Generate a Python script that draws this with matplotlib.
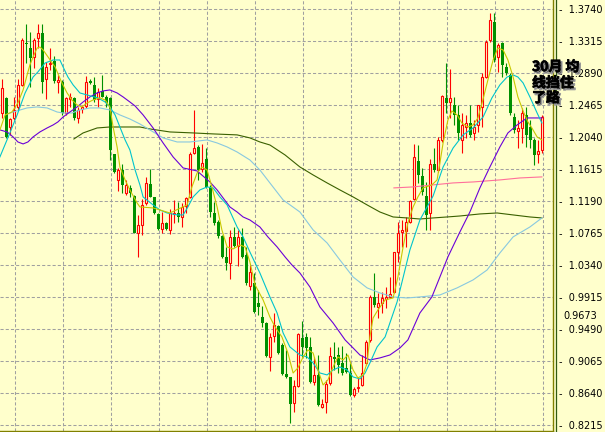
import numpy as np
import matplotlib
matplotlib.use('Agg')
import matplotlib.pyplot as plt
import matplotlib.patheffects as pe
from matplotlib.lines import Line2D

# OHLC for each bar
opens = [1.2359, 1.2559, 1.2173, 1.2293, 1.2439, 1.2732, 1.3288, 1.3222, 1.3103, 1.3355,
         1.3421, 1.2810, 1.3010, 1.3050, 1.2771, 1.2771, 1.2359, 1.2545, 1.2559, 1.2293,
         1.2412, 1.2452, 1.2785, 1.2732, 1.2545, 1.2652, 1.2572, 1.2559, 1.1815, 1.1470,
         1.1602, 1.1297, 1.1364, 1.1257, 1.0766, 1.0872, 1.1164, 1.1417, 1.1244, 1.1018,
         1.0819, 1.0898, 1.0806, 1.1018, 1.1031, 1.0978, 1.1124, 1.1244, 1.1828, 1.1908,
         1.1615, 1.1748, 1.1377, 1.1031, 1.0911, 1.0726, 1.0447, 1.0367, 1.0713, 1.0593,
         1.0713, 1.0474, 1.0062, 1.0102, 0.9836, 0.9650, 0.9570, 0.9119, 0.9398, 0.9530,
         0.9278, 0.8893, 0.8853, 0.8508, 0.8734, 0.9371, 0.9385, 0.9252, 0.8787, 0.8880,
         0.8455, 0.8521, 0.8774, 0.9119, 0.9145, 0.9039, 0.8973, 0.8906, 0.8615, 0.8708,
         0.8747, 0.9039, 0.9345, 0.9916, 0.9783, 0.9836, 0.9889, 0.9916, 0.9982, 1.0513,
         1.0779, 1.0792, 1.0911, 1.1217, 1.1722, 1.1523, 1.1257, 1.1031, 1.1682, 1.1602,
         1.2001, 1.2559, 1.2505, 1.2466, 1.2333, 1.2001, 1.2173, 1.2226, 1.2094, 1.2200,
         1.2439, 1.2837, 1.3328, 1.3567, 1.3103, 1.3288, 1.2970, 1.2864, 1.2306, 1.2120,
         1.2160, 1.2333, 1.2173, 1.2001, 1.1815, 1.1868]
highs = [1.2810, 1.2572, 1.2293, 1.2572, 1.2810, 1.3355, 1.3541, 1.3434, 1.3355, 1.3541,
         1.3541, 1.3036, 1.3222, 1.3116, 1.2864, 1.2798, 1.2572, 1.2625, 1.2572, 1.2439,
         1.2466, 1.2850, 1.2810, 1.2837, 1.2692, 1.2864, 1.2598, 1.2572, 1.1815, 1.1629,
         1.1682, 1.1470, 1.1404, 1.1271, 1.1005, 1.1217, 1.1510, 1.1615, 1.1244, 1.1031,
         1.1044, 1.0911, 1.1084, 1.1204, 1.1177, 1.1164, 1.1244, 1.1841, 1.2399, 1.1934,
         1.1948, 1.1894, 1.1404, 1.1177, 1.0938, 1.0740, 1.0580, 1.0806, 1.0845, 1.0806,
         1.0832, 1.0580, 1.0341, 1.0234, 1.0009, 0.9796, 0.9583, 0.9438, 0.9703, 0.9544,
         0.9305, 0.9212, 0.8853, 0.8814, 0.9438, 0.9597, 0.9438, 0.9385, 0.9119, 0.9145,
         0.8561, 0.8814, 0.9252, 0.9318, 0.9252, 0.9265, 0.9172, 0.9039, 0.8721, 0.8853,
         0.9145, 0.9345, 0.9942, 1.0234, 0.9969, 0.9982, 1.0049, 1.0181, 1.0513, 1.0911,
         1.0938, 1.0978, 1.1204, 1.1948, 1.1934, 1.1629, 1.1443, 1.1748, 1.1894, 1.2041,
         1.2598, 1.3023, 1.2943, 1.2572, 1.2466, 1.2359, 1.2333, 1.2466, 1.2266, 1.2466,
         1.2890, 1.3328, 1.3687, 1.3687, 1.3288, 1.3302, 1.3023, 1.2890, 1.2359, 1.2266,
         1.2426, 1.2439, 1.2266, 1.2028, 1.2001, 1.2333]
lows = [1.2293, 1.2028, 1.2068, 1.2266, 1.2399, 1.2718, 1.3023, 1.2705, 1.2957, 1.3222,
        1.2625, 1.2545, 1.2930, 1.2758, 1.2625, 1.2333, 1.2333, 1.2439, 1.2266, 1.2226,
        1.2359, 1.2426, 1.2745, 1.2505, 1.2439, 1.2572, 1.2439, 1.1735, 1.1562, 1.1324,
        1.1297, 1.1271, 1.1244, 1.0766, 1.0447, 1.0740, 1.1138, 1.1244, 1.1018, 1.0806,
        1.0766, 1.0806, 1.0753, 1.0898, 1.0911, 1.0845, 1.1031, 1.1231, 1.1815, 1.1470,
        1.1575, 1.1364, 1.0978, 1.0872, 1.0700, 1.0434, 1.0274, 1.0155, 1.0580, 1.0327,
        1.0434, 1.0075, 1.0009, 0.9703, 0.9677, 0.9517, 0.9119, 0.8933, 0.9318, 0.9159,
        0.8880, 0.8840, 0.8243, 0.8388, 0.8721, 0.9119, 0.9106, 0.8774, 0.8747, 0.8468,
        0.8442, 0.8375, 0.8747, 0.8946, 0.8906, 0.8880, 0.8906, 0.8601, 0.8588, 0.8655,
        0.8734, 0.9013, 0.9318, 0.9783, 0.9637, 0.9703, 0.9770, 0.9902, 0.9969, 1.0380,
        1.0580, 1.0580, 1.0898, 1.1204, 1.1430, 1.1271, 1.0806, 1.0806, 1.1575, 1.1575,
        1.1974, 1.2359, 1.2293, 1.2200, 1.2001, 1.1828, 1.2028, 1.2041, 1.2001, 1.2107,
        1.2173, 1.2824, 1.3302, 1.3036, 1.2904, 1.2837, 1.2864, 1.2333, 1.2094, 1.1894,
        1.1961, 1.1908, 1.1894, 1.1669, 1.1695, 1.1828]
closes = [1.2692, 1.2041, 1.2279, 1.2399, 1.2732, 1.3328, 1.3275, 1.3090, 1.3328, 1.3421,
          1.2771, 1.2970, 1.3023, 1.2785, 1.2798, 1.2359, 1.2559, 1.2572, 1.2293, 1.2399,
          1.2439, 1.2771, 1.2758, 1.2532, 1.2638, 1.2572, 1.2492, 1.1868, 1.1575, 1.1602,
          1.1404, 1.1404, 1.1297, 1.0766, 1.0872, 1.1138, 1.1430, 1.1244, 1.1031, 1.0819,
          1.0898, 1.0819, 1.1031, 1.1031, 1.0978, 1.1111, 1.1231, 1.1815, 1.1894, 1.1602,
          1.1695, 1.1377, 1.1044, 1.0898, 1.0726, 1.0447, 1.0367, 1.0713, 1.0593, 1.0713,
          1.0447, 1.0102, 1.0248, 0.9716, 0.9783, 0.9570, 0.9132, 0.9385, 0.9544, 0.9172,
          0.8893, 0.8853, 0.8495, 0.8734, 0.9425, 0.9252, 0.9238, 0.8787, 0.8880, 0.8482,
          0.8495, 0.8761, 0.9132, 0.9092, 0.9013, 0.8906, 0.8920, 0.8615, 0.8694, 0.8721,
          0.8906, 0.9318, 0.9916, 0.9810, 0.9836, 0.9902, 0.9916, 0.9956, 1.0513, 1.0766,
          1.0806, 1.0911, 1.1191, 1.1775, 1.1536, 1.1310, 1.1005, 1.1682, 1.1602, 1.2001,
          1.2585, 1.2492, 1.2559, 1.2333, 1.2094, 1.2200, 1.2226, 1.2068, 1.2173, 1.2466,
          1.2837, 1.3302, 1.3594, 1.3063, 1.3262, 1.2997, 1.2890, 1.2359, 1.2134, 1.2160,
          1.2359, 1.2068, 1.2001, 1.1801, 1.1855, 1.2306]

# moving average lines, sampled along the bar index
ma_yellow_x = [-0.6, 0.7, 2.4, 3.9, 5.2, 6.2, 6.9, 7.7, 8.7, 9.4, 10.2, 13.2, 14.9, 16.2, 17.4,
               18.7, 19.9, 21.2, 22.7, 24.4, 25.7, 26.9, 27.7, 28.7, 29.4, 30.7, 31.9, 33.7,
               34.4, 37.7, 41.9, 46.2, 47.4, 48.7, 49.9, 51.2, 52.4, 53.7, 54.9, 56.2, 57.7,
               59.4, 60.7, 61.9, 63.2, 65.2, 66.9, 68.2, 69.9, 71.4, 72.7, 73.9, 75.2, 76.4,
               77.7, 78.9, 80.2, 81.4, 82.7, 83.9, 85.2, 86.4, 87.7, 88.9, 90.2, 91.2, 91.9,
               92.7, 93.9, 95.7, 97.7, 98.9, 100.2, 101.4, 102.7, 103.9, 105.2, 107.4, 108.7,
               109.4, 110.2, 111.4, 112.4, 113.7, 114.9, 116.4, 117.7, 118.9, 120.2, 121.4,
               122.7, 123.9, 125.2, 126.4, 127.7, 128.9, 130.2, 131.4, 132.4, 133.7, 134.9]
ma_yellow = [1.2134, 1.2333, 1.2372, 1.2492, 1.2665, 1.2864, 1.2997, 1.3103, 1.3222, 1.3235,
             1.3196, 1.2970, 1.2758, 1.2625, 1.2532, 1.2466, 1.2439, 1.2492, 1.2532, 1.2559,
             1.2532, 1.2439, 1.2173, 1.1908, 1.1642, 1.1470, 1.1337, 1.1164, 1.1111, 1.1098,
             1.1031, 1.1138, 1.1377, 1.1562, 1.1642, 1.1602, 1.1377, 1.1111, 1.0806, 1.0580,
             1.0553, 1.0606, 1.0580, 1.0380, 1.0075, 0.9876, 0.9650, 0.9517, 0.9385, 0.9172,
             0.8906, 0.8973, 0.9119, 0.9212, 0.9172, 0.8946, 0.8747, 0.8814, 0.8986, 0.9119,
             0.9079, 0.9145, 0.8946, 0.8840, 0.8880, 0.9039, 0.9385, 0.9637, 0.9743, 0.9876,
             0.9902, 1.0181, 1.0580, 1.0898, 1.1111, 1.1244, 1.1364, 1.1404, 1.1470, 1.1695,
             1.1961, 1.2266, 1.2386, 1.2333, 1.2226, 1.2173, 1.2200, 1.2293, 1.2545, 1.2798,
             1.3063, 1.3222, 1.3196, 1.3063, 1.2837, 1.2572, 1.2386, 1.2240, 1.2160, 1.2041,
             1.2001]

ma_cyan_x = [-0.6, 1.9, 3.7, 5.7, 7.7, 8.9, 10.7, 12.7, 14.4, 15.2, 16.4, 17.7, 19.4, 21.2,
             23.9, 25.7, 26.9, 28.2, 29.4, 30.7, 31.9, 33.2, 34.4, 35.2, 37.7, 39.4, 41.2,
             43.7, 45.2, 46.4, 47.7, 49.4, 51.2, 52.7, 54.4, 56.2, 58.7, 60.2, 61.9, 64.4,
             66.9, 68.7, 70.2, 71.9, 74.4, 76.2, 77.7, 79.4, 81.2, 82.7, 84.4, 86.2, 87.7,
             89.4, 90.7, 91.9, 93.7, 95.7, 98.7, 101.9, 104.4, 107.7, 110.2, 112.7, 115.2,
             117.7, 120.2, 122.4, 124.4, 126.2, 127.7, 128.9, 130.2, 131.9, 133.7, 134.9]
ma_cyan = [1.1775, 1.2094, 1.2333, 1.2625, 1.2837, 1.2904, 1.3023, 1.3063, 1.3063, 1.2970,
           1.2837, 1.2732, 1.2625, 1.2598, 1.2559, 1.2505, 1.2439, 1.2333, 1.2173, 1.2001,
           1.1868, 1.1602, 1.1404, 1.1244, 1.1138, 1.1071, 1.1031, 1.1005, 1.1005, 1.1111,
           1.1244, 1.1337, 1.1377, 1.1364, 1.1244, 1.1138, 1.0845, 1.0713, 1.0513, 1.0234,
           0.9916, 0.9703, 0.9438, 0.9252, 0.9145, 0.9119, 0.9039, 0.8906, 0.8880, 0.8946,
           0.8986, 0.8946, 0.8853, 0.8827, 0.8906, 0.9039, 0.9252, 0.9385, 0.9850, 1.0540,
           1.0938, 1.1257, 1.1642, 1.1894, 1.2068, 1.2160, 1.2306, 1.2559, 1.2732, 1.2837,
           1.2864, 1.2837, 1.2758, 1.2572, 1.2359, 1.2226]

ma_purple_x = [-0.6, 1.2, 2.7, 3.9, 5.2, 6.4, 7.7, 9.4, 11.2, 12.7, 13.9, 15.2, 16.9, 18.7,
               20.2, 21.9, 23.7, 25.2, 26.9, 28.7, 30.2, 31.9, 33.2, 35.2, 37.7, 40.2, 42.7,
               45.2, 48.7, 51.9, 53.7, 55.2, 56.9, 58.7, 60.2, 61.9, 64.4, 66.4, 68.7, 70.7,
               72.4, 74.4, 76.9, 79.4, 82.7, 85.7, 87.7, 89.4, 91.9, 94.4, 96.9, 99.4, 101.4,
               104.4, 107.4, 109.4, 111.4, 114.4, 116.9, 119.4, 121.9, 124.4, 126.4, 128.7,
               131.2, 134.9]
ma_purple = [1.2134, 1.2107, 1.2041, 1.1974, 1.1948, 1.1974, 1.2041, 1.2107, 1.2160, 1.2200,
             1.2240, 1.2306, 1.2372, 1.2439, 1.2505, 1.2572, 1.2625, 1.2652, 1.2665, 1.2625,
             1.2572, 1.2505, 1.2452, 1.2333, 1.2160, 1.1961, 1.1775, 1.1629, 1.1589, 1.1443,
             1.1337, 1.1231, 1.1111, 1.1044, 1.0978, 1.0938, 1.0845, 1.0713, 1.0580, 1.0447,
             1.0341, 1.0234, 1.0049, 0.9783, 0.9570, 0.9345, 0.9238, 0.9145, 0.9079, 0.9106,
             0.9145, 0.9238, 0.9345, 0.9703, 0.9916, 1.0181, 1.0447, 1.0779, 1.1044, 1.1364,
             1.1642, 1.1908, 1.2094, 1.2200, 1.2293, 1.2293]

ma_skyblue_x = [1.4, 2.7, 6.2, 8.7, 11.2, 13.7, 15.2, 17.4, 19.4, 21.9, 24.4, 26.9, 29.4, 31.9,
                34.4, 36.9, 40.2, 43.7, 46.9, 51.2, 53.7, 56.2, 58.7, 61.9, 64.4, 66.9, 70.2,
                74.4, 77.7, 81.2, 84.4, 87.7, 91.2, 94.4, 97.7, 101.2, 104.4, 109.4, 113.7,
                117.7, 121.2, 124.4, 127.7, 131.9, 134.9]
ma_skyblue = [1.2346, 1.2372, 1.2426, 1.2439, 1.2426, 1.2372, 1.2359, 1.2359, 1.2399, 1.2426,
              1.2426, 1.2399, 1.2333, 1.2279, 1.2213, 1.2134, 1.2028, 1.1974, 1.1974, 1.2001,
              1.1961, 1.1908, 1.1841, 1.1735, 1.1602, 1.1430, 1.1204, 1.1044, 1.0806, 1.0633,
              1.0407, 1.0181, 1.0036, 0.9969, 0.9916, 0.9902, 0.9916, 0.9942, 1.0036, 1.0142,
              1.0274, 1.0500, 1.0713, 1.0845, 1.0965]

ma_olive_x = [17.9, 20.2, 23.7, 26.9, 31.2, 34.4, 36.9, 41.9, 47.7, 52.7, 58.7, 61.9, 64.4,
              66.9, 70.7, 74.4, 77.7, 81.2, 84.4, 87.7, 91.2, 94.4, 97.7, 101.2, 104.4, 107.7,
              111.2, 114.4, 119.4, 123.7, 127.7, 131.9, 134.9]
ma_olive = [1.2014, 1.2094, 1.2160, 1.2173, 1.2173, 1.2173, 1.2147, 1.2107, 1.2094, 1.2081,
            1.2068, 1.2028, 1.1974, 1.1934, 1.1801, 1.1642, 1.1536, 1.1430, 1.1337, 1.1244,
            1.1138, 1.1044, 1.0978, 1.0965, 1.0951, 1.0965, 1.0978, 1.0991, 1.1018, 1.1031,
            1.1005, 1.0978, 1.0965]

ma_pink_x = [97.9, 102.7, 107.7, 112.7, 117.7, 124.4, 129.4, 134.9]
ma_pink = [1.1364, 1.1377, 1.1404, 1.1430, 1.1443, 1.1470, 1.1496, 1.1510]

price_ticks = [0.8215, 0.8640, 0.9065, 0.9490, 0.9915, 1.0340, 1.0765,
               1.1190, 1.1615, 1.2040, 1.2465, 1.2890, 1.3315, 1.3740]
last_price = 0.9673

bg = '#ffffcc'
red = '#ff0000'
green = '#009000'

fig = plt.figure(figsize=(6.05, 4.32), dpi=100, facecolor=bg)
ax = fig.add_axes([0, 1/432, 553/605, 431/432], facecolor=bg)

o = np.array(opens)
h = np.array(highs)
l = np.array(lows)
c = np.array(closes)
idx = np.arange(len(o))
up = c >= o

# wicks, then bodies (up bars hollow red, down bars solid green)
ax.vlines(idx[up], l[up], h[up], color=red, linewidth=0.8, zorder=2)
ax.vlines(idx[~up], l[~up], h[~up], color=green, linewidth=0.8, zorder=2)
ax.bar(idx[up], (c - o)[up], bottom=o[up], width=0.5, facecolor=bg,
       edgecolor=red, linewidth=0.8, zorder=3)
ax.bar(idx[~up], (o - c)[~up], bottom=c[~up], width=0.75, color=green,
       linewidth=0, zorder=3)

# moving averages
lw = 0.8
ax.plot(ma_olive_x, ma_olive, color='#3a6000', linewidth=lw, zorder=4)
ax.plot(ma_pink_x, ma_pink, color='#ff6f9a', linewidth=lw, zorder=4)
ax.plot(ma_skyblue_x, ma_skyblue, color='#88c8e0', linewidth=lw, zorder=4)
ax.plot(ma_purple_x, ma_purple, color='#6a00d8', linewidth=lw, zorder=4)
ax.plot(ma_cyan_x, ma_cyan, color='#00c4cc', linewidth=lw, zorder=4)
ax.plot(ma_yellow_x, ma_yellow, color='#c8c800', linewidth=lw, zorder=4)

ax.set_xlim(-0.575, 137.675)
ax.set_ylim(0.81354, 1.38595)

# grid
ax.set_xticks(3.175 + 12 * np.arange(12))
ax.set_yticks(price_ticks)
ax.set_yticklabels(['-  %.4f' % t for t in price_ticks])
ax.yaxis.tick_right()
ax.tick_params(axis='x', length=0, labelbottom=False)
ax.tick_params(axis='y', length=0, pad=4, labelsize=7, labelcolor='black')
ax.grid(True, color='#a0a0a0', linestyle=(0, (3, 2)), linewidth=0.75)
ax.set_axisbelow(True)

for s in ['top', 'left']:
    ax.spines[s].set_visible(False)
ax.spines['right'].set_color('#808000')
ax.spines['bottom'].set_color('#808000')
ax.spines['right'].set_linewidth(1.0)
ax.spines['bottom'].set_linewidth(1.0)
fig.add_artist(Line2D([555.5/605, 555.5/605], [1/432, 1], color='#2f5a10', linewidth=0.9))

fig.text(563/605, 1 - 316/432, '%.4f' % last_price, fontsize=7, va='center', ha='left')

# note on the chart, black with a grey drop shadow
fx = [pe.Stroke(linewidth=1.0, foreground='#9a9a9a', offset=(1.3, -1.3)),
      pe.Stroke(linewidth=0.5, foreground='black'), pe.Normal()]
note_lines = ['30月 均', '线挡住', '了路']
note_y = [67, 83, 98]
for txt, yy in zip(note_lines, note_y):
    fig.text(532/605, 1 - yy/432, txt, fontsize=10, fontweight='bold', color='black',
             family=['Noto Sans CJK SC', 'DejaVu Sans'], va='center', ha='left',
             path_effects=fx, zorder=10)

fig.savefig('out.png', dpi=100, facecolor=bg)
